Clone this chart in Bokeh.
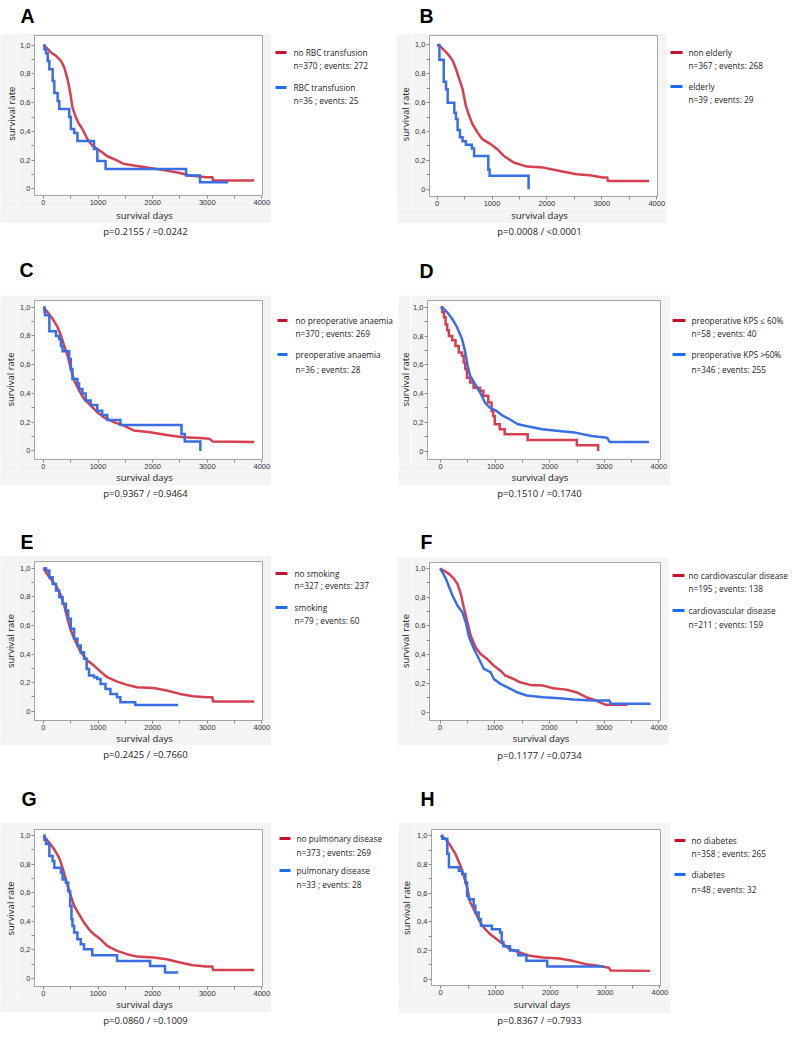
import math
from bokeh.plotting import figure
from bokeh.models import FixedTicker, CustomJSTickFormatter, Spacer
from bokeh.layouts import row, column
from bokeh.core.properties import value
from bokeh.embed import file_html
from bokeh.resources import INLINE

# ---------------- data (survival days, survival rate) ----------------
A_red_days = [0, 48, 139, 230, 321, 381, 442, 490, 532, 593, 653, 714, 805, 895, 986, 1077, 1168, 1289, 1470, 1652, 1954, 2257, 2499, 2680, 2983, 3095, 3104, 3860]
A_red_surv = [1.0, 0.984, 0.949, 0.926, 0.891, 0.845, 0.764, 0.671, 0.567, 0.498, 0.451, 0.417, 0.347, 0.301, 0.278, 0.255, 0.227, 0.208, 0.174, 0.162, 0.146, 0.127, 0.111, 0.093, 0.081, 0.081, 0.058, 0.058]
A_blue_days = [0, 18, 48, 79, 109, 170, 200, 261, 291, 473, 503, 564, 624, 927, 988, 1139, 2612, 2867, 3382]
A_blue_surv = [1.0, 0.972, 0.944, 0.889, 0.833, 0.75, 0.667, 0.611, 0.556, 0.5, 0.417, 0.389, 0.333, 0.278, 0.194, 0.139, 0.093, 0.046, 0.046]

B_red_days = [0, 72, 192, 283, 343, 403, 463, 523, 583, 644, 734, 824, 974, 1095, 1215, 1395, 1636, 1937, 2237, 2538, 2779, 3019, 3100, 3109, 3862]
B_red_surv = [1.0, 0.984, 0.938, 0.891, 0.833, 0.764, 0.694, 0.579, 0.509, 0.451, 0.394, 0.347, 0.313, 0.278, 0.231, 0.185, 0.157, 0.150, 0.127, 0.104, 0.097, 0.081, 0.081, 0.058, 0.058]
B_blue_days = [0, 42, 120, 162, 192, 313, 343, 373, 415, 463, 523, 632, 674, 932, 956, 1666]
B_blue_surv = [1.0, 0.897, 0.744, 0.692, 0.60, 0.53, 0.487, 0.41, 0.36, 0.333, 0.308, 0.282, 0.231, 0.135, 0.093, 0.0]

C_red_days = [0, 79, 169, 260, 321, 381, 442, 502, 563, 654, 744, 865, 986, 1107, 1289, 1470, 1652, 1954, 2257, 2560, 2862, 3044, 3100, 3860]
C_red_surv = [1.0, 0.965, 0.919, 0.861, 0.803, 0.733, 0.664, 0.571, 0.490, 0.420, 0.362, 0.316, 0.269, 0.234, 0.200, 0.176, 0.142, 0.130, 0.111, 0.095, 0.090, 0.084, 0.065, 0.062]
C_blue_days = [0, 18, 30, 109, 230, 290, 321, 351, 472, 502, 532, 623, 653, 714, 774, 865, 986, 1077, 1168, 1410, 2529, 2589, 2874]
C_blue_surv = [1.0, 0.97, 0.944, 0.833, 0.80, 0.778, 0.73, 0.694, 0.64, 0.57, 0.50, 0.47, 0.43, 0.40, 0.35, 0.32, 0.28, 0.25, 0.215, 0.18, 0.118, 0.065, 0.0]

D_red_days = [0, 30, 60, 90, 120, 150, 211, 271, 331, 391, 421, 451, 481, 541, 602, 722, 782, 872, 932, 962, 992, 1083, 1173, 1594, 2496, 2887]
D_red_surv = [1.0, 0.965, 0.93, 0.88, 0.84, 0.80, 0.77, 0.73, 0.686, 0.663, 0.616, 0.57, 0.51, 0.477, 0.44, 0.42, 0.384, 0.337, 0.279, 0.244, 0.186, 0.151, 0.116, 0.077, 0.04, 0.0]
D_blue_days = [0, 60, 120, 211, 301, 391, 451, 493, 541, 632, 722, 812, 902, 1023, 1143, 1263, 1414, 1564, 1865, 2165, 2466, 2767, 3050, 3098, 3820]
D_blue_surv = [1.0, 0.988, 0.965, 0.919, 0.860, 0.779, 0.686, 0.593, 0.523, 0.465, 0.407, 0.337, 0.302, 0.279, 0.244, 0.221, 0.186, 0.174, 0.151, 0.140, 0.128, 0.105, 0.093, 0.063, 0.063]

E_red_days = [0, 109, 230, 321, 381, 442, 502, 593, 684, 805, 926, 1047, 1168, 1349, 1531, 1712, 2015, 2257, 2499, 2741, 2983, 3095, 3104, 3860]
E_red_surv = [1.0, 0.937, 0.879, 0.809, 0.739, 0.646, 0.564, 0.483, 0.413, 0.354, 0.319, 0.277, 0.238, 0.207, 0.184, 0.168, 0.163, 0.145, 0.121, 0.105, 0.098, 0.098, 0.068, 0.068]
E_blue_days = [0, 48, 109, 169, 230, 290, 351, 411, 454, 502, 563, 623, 684, 744, 792, 835, 926, 986, 1047, 1137, 1228, 1349, 1410, 1682, 2468]
E_blue_surv = [1.0, 0.984, 0.937, 0.890, 0.844, 0.797, 0.751, 0.704, 0.646, 0.576, 0.506, 0.459, 0.413, 0.366, 0.296, 0.249, 0.238, 0.226, 0.191, 0.156, 0.121, 0.098, 0.063, 0.044, 0.044]

F_red_days = [0, 78, 169, 259, 320, 380, 440, 500, 561, 651, 741, 862, 983, 1103, 1194, 1345, 1465, 1646, 1887, 2068, 2309, 2490, 2671, 2852, 3033, 3425]
F_red_surv = [1.0, 0.984, 0.961, 0.926, 0.891, 0.822, 0.718, 0.625, 0.532, 0.451, 0.405, 0.370, 0.324, 0.289, 0.255, 0.231, 0.208, 0.190, 0.185, 0.167, 0.157, 0.139, 0.104, 0.081, 0.051, 0.051]
F_blue_days = [0, 48, 109, 169, 229, 320, 410, 470, 531, 621, 712, 802, 923, 983, 1103, 1224, 1405, 1586, 1887, 2188, 2430, 2792, 3093, 3124, 3847]
F_blue_surv = [1.0, 0.972, 0.926, 0.868, 0.810, 0.741, 0.694, 0.625, 0.521, 0.440, 0.370, 0.301, 0.278, 0.231, 0.197, 0.174, 0.139, 0.116, 0.104, 0.097, 0.088, 0.081, 0.081, 0.058, 0.058]

G_red_days = [0, 109, 200, 290, 351, 411, 472, 563, 654, 744, 835, 926, 1047, 1168, 1349, 1531, 1712, 2015, 2257, 2499, 2741, 2983, 3095, 3104, 3860]
G_red_surv = [1.0, 0.949, 0.902, 0.844, 0.774, 0.693, 0.612, 0.507, 0.449, 0.391, 0.344, 0.309, 0.274, 0.228, 0.193, 0.170, 0.153, 0.147, 0.135, 0.112, 0.093, 0.084, 0.084, 0.060, 0.060]
G_blue_days = [0, 18, 48, 109, 169, 200, 321, 351, 411, 454, 490, 514, 532, 563, 623, 684, 744, 895, 1349, 1954, 2226, 2468]
G_blue_surv = [1.0, 0.97, 0.94, 0.856, 0.82, 0.774, 0.74, 0.693, 0.67, 0.612, 0.507, 0.414, 0.367, 0.321, 0.274, 0.24, 0.205, 0.163, 0.123, 0.088, 0.042, 0.042]

H_red_days = [0, 90, 180, 271, 361, 421, 481, 541, 632, 722, 812, 902, 1023, 1143, 1263, 1444, 1624, 1865, 2165, 2406, 2647, 2887, 3068, 3100, 3820]
H_red_surv = [1.0, 0.977, 0.930, 0.872, 0.791, 0.721, 0.640, 0.535, 0.465, 0.395, 0.349, 0.314, 0.279, 0.244, 0.209, 0.186, 0.163, 0.151, 0.144, 0.128, 0.105, 0.093, 0.080, 0.060, 0.058]
H_blue_days = [0, 30, 120, 150, 331, 391, 451, 481, 511, 602, 632, 692, 734, 932, 1083, 1113, 1143, 1263, 1414, 1564, 1943, 2977]
H_blue_surv = [1.0, 0.979, 0.875, 0.78, 0.756, 0.733, 0.674, 0.581, 0.558, 0.512, 0.465, 0.42, 0.372, 0.349, 0.326, 0.26, 0.23, 0.2, 0.167, 0.128, 0.088, 0.088]

letters = ["A", "B", "C", "D", "E", "F", "G", "H"]
group_names = [
    ("no RBC transfusion", "RBC transfusion"),
    ("non elderly", "elderly"),
    ("no preoperative anaemia", "preoperative anaemia"),
    ("preoperative KPS \u2264 60%", "preoperative KPS >60%"),
    ("no smoking", "smoking"),
    ("no cardiovascular disease", "cardiovascular disease"),
    ("no pulmonary disease", "pulmonary disease"),
    ("no diabetes", "diabetes"),
]
group_counts = [
    ("n=370 ; events: 272", "n=36 ; events: 25"),
    ("n=367 ; events: 268", "n=39 ; events: 29"),
    ("n=370 ; events: 269", "n=36 ; events: 28"),
    ("n=58 ; events: 40", "n=346 ; events: 255"),
    ("n=327 ; events: 237", "n=79 ; events: 60"),
    ("n=195 ; events: 138", "n=211 ; events: 159"),
    ("n=373 ; events: 269", "n=33 ; events: 28"),
    ("n=358 ; events: 265", "n=48 ; events: 32"),
]
p_values = ["p=0.2155 / =0.0242", "p=0.0008 / <0.0001", "p=0.9367 / =0.9464", "p=0.1510 / =0.1740",
            "p=0.2425 / =0.7660", "p=0.1177 / =0.0734", "p=0.0860 / =0.1009", "p=0.8367 / =0.7933"]
x_label = "survival days"
y_label = "survival rate"
x_ticks = [0, 1000, 2000, 3000, 4000]
x_minor = [500, 1500, 2500, 3500]
y_ticks = [0, 0.2, 0.4, 0.6, 0.8, 1.0]
y_minor = [0.1, 0.3, 0.5, 0.7, 0.9]

series = [
    (A_red_days, A_red_surv, "line", A_blue_days, A_blue_surv, "step"),
    (B_red_days, B_red_surv, "line", B_blue_days, B_blue_surv, "step"),
    (C_red_days, C_red_surv, "line", C_blue_days, C_blue_surv, "step"),
    (D_red_days, D_red_surv, "step", D_blue_days, D_blue_surv, "line"),
    (E_red_days, E_red_surv, "line", E_blue_days, E_blue_surv, "step"),
    (F_red_days, F_red_surv, "line", F_blue_days, F_blue_surv, "line"),
    (G_red_days, G_red_surv, "line", G_blue_days, G_blue_surv, "step"),
    (H_red_days, H_red_surv, "line", H_blue_days, H_blue_surv, "step"),
]

# ---------------- layout (pixel positions; left column relative to x=8, right column relative to x=400) ----------------
LAYOUT = [
    dict(h=252, fr=(32, 262, 35, 195), xr=(-163, 4012), yr=(-0.046, 1.067), gr=(0, 271, 33, 223), let=(20, 21),
         kx=(275, 286), tx=293, ty=(52, 65, 87, 100), pv=(145, 231), ylx=11, xly=214.5),
    dict(h=252, fr=(35, 265, 35, 196), xr=(-139, 4014), yr=(-0.050, 1.065), gr=(3, 275, 33, 223), let=(27, 21),
         kx=(278, 290), tx=296, ty=(52, 65, 86, 99), pv=(147, 231), ylx=13, xly=214.5),
    dict(h=260, fr=(32, 262, 48, 207), xr=(-163, 4012), yr=(-0.060, 1.047), gr=(0, 271, 43, 233), let=(19, 23),
         kx=(277, 287), tx=295, ty=(68, 81, 102, 117), pv=(145, 241), ylx=9.5, xly=224.5),
    dict(h=260, fr=(33, 268, 48, 207), xr=(-242, 4030), yr=(-0.059, 1.047), gr=(6, 278, 43, 233), let=(27, 24),
         kx=(280, 293), tx=299, ty=(68, 81, 102, 117), pv=(147, 241), ylx=13, xly=224.5),
    dict(h=260, fr=(32, 262, 49, 208), xr=(-163, 4012), yr=(-0.065, 1.047), gr=(0, 271, 43, 233), let=(20, 35),
         kx=(275, 287), tx=294, ty=(61, 73, 95, 108), pv=(145, 242), ylx=9.5, xly=224.5),
    dict(h=260, fr=(35, 268, 50, 208), xr=(-193, 4030), yr=(-0.058, 1.042), gr=(5, 277, 45, 233), let=(28, 35),
         kx=(280, 292), tx=296, ty=(63, 76, 98, 112), pv=(147, 243), ylx=12.5, xly=226),
    dict(h=257, fr=(32, 262, 57, 214), xr=(-163, 4012), yr=(-0.056, 1.042), gr=(0, 271, 50, 240), let=(21, 32),
         kx=(279, 290), tx=296, ty=(66, 80, 98, 112), pv=(145, 248), ylx=9.5, xly=231.5),
    dict(h=257, fr=(37, 268, 57, 213), xr=(-168, 4010), yr=(-0.044, 1.044), gr=(6, 278, 50, 241), let=(28, 32),
         kx=(282, 293), tx=299, ty=(68, 81, 102, 117), pv=(147, 248), ylx=13.5, xly=232),
]

FIG_W = 396              # each column is 396 px wide (8..404, 404..800)
COL_OFFSET = [0, 4]      # shift of the right column's coordinates
LB, BB = 15, 12          # plot borders holding the tick labels
RED_LINE = "#d63f50"
BLUE_LINE = "#3a6ee4"
RED_KEY = "#c8102e"
BLUE_KEY = "#1b6ef3"
GRAY_BG = "#f4f4f4"
FRAME_C = "#a4a4a4"
TICK_C = "#8a8a8a"
TXT_FONT = "Open Sans"
TICK_FONT = "Liberation Sans"
TXT_C = "#222222"
LEG_SIZE = "8.3px"


def text_fig(x0, x1, y0, y1, bg="white"):
    f = figure(width=int(round(x1 - x0)), height=int(round(y1 - y0)), x_range=(x0, x1), y_range=(y1, y0),
               output_backend="svg", toolbar_location=None, min_border=0,
               x_axis_type=None, y_axis_type=None)
    f.outline_line_color = None
    f.background_fill_color = bg
    f.border_fill_color = bg
    f.xgrid.visible = False
    f.ygrid.visible = False
    return f


def put_text(f, x, y, txt, size, font=TXT_FONT, style="normal", align="left",
             baseline="middle", color=TXT_C, angle=0.0):
    f.text(x=[x], y=[y], text=[txt], text_font=value(font), text_font_size=value(size),
           text_font_style=style, text_align=align, text_baseline=baseline,
           text_color=color, angle=angle)


def make_panel(i):
    L = LAYOUT[i]
    ox = COL_OFFSET[i % 2]
    h = L["h"]
    fl, fr, ft, fb = L["fr"]
    fl, fr = fl - ox, fr - ox
    gl, gr, gt, gb = L["gr"]
    gl, gr = max(0, gl - ox), gr - ox
    px0 = fl - LB
    py1 = fb + BB

    p = figure(width=gr - px0, height=py1 - gt, x_range=L["xr"], y_range=L["yr"],
               output_backend="svg", toolbar_location=None,
               min_border_left=LB, min_border_right=gr - fr,
               min_border_top=ft - gt, min_border_bottom=BB)
    p.background_fill_color = "white"
    p.border_fill_color = GRAY_BG
    p.outline_line_color = FRAME_C
    p.outline_line_width = 1
    p.xgrid.visible = False
    p.ygrid.visible = False
    p.xaxis.ticker = FixedTicker(ticks=x_ticks, minor_ticks=x_minor)
    p.yaxis.ticker = FixedTicker(ticks=y_ticks, minor_ticks=y_minor)
    p.yaxis.formatter = CustomJSTickFormatter(
        code="return tick == 0 ? '0' : tick.toFixed(1).replace('.', ',');")
    for ax in (p.xaxis[0], p.yaxis[0]):
        ax.axis_line_color = FRAME_C
        ax.major_tick_line_color = TICK_C
        ax.minor_tick_line_color = TICK_C
        ax.major_tick_out = 3
        ax.major_tick_in = 0
        ax.minor_tick_out = 3
        ax.minor_tick_in = 0
        ax.major_label_standoff = 1
        ax.major_label_text_font = TICK_FONT
        ax.major_label_text_font_size = "7.5px"
        ax.major_label_text_color = "#333333"

    rd, rs, rmode, bd, bs, bmode = series[i]
    for d, s, mode, col in ((rd, rs, rmode, RED_LINE), (bd, bs, bmode, BLUE_LINE)):
        if mode == "step":
            p.step(d, s, mode="after", line_width=2.5, line_color=col, line_join="miter")
        else:
            p.line(d, s, line_width=2.5, line_color=col, line_join="round")

    # axis titles in gray strips
    ylab = text_fig(gl, px0, gt, py1, GRAY_BG)
    ylx = min(max(L["ylx"] - ox, gl + 5.5), px0 - 5.5)
    put_text(ylab, ylx, (ft + fb) / 2 + 3, y_label, "9.5px", align="center", angle=math.pi / 2)
    xlab = text_fig(gl, gr, py1, gb, GRAY_BG)
    xly = min(max(L["xly"], py1 + 5.5), gb - 5.5)
    put_text(xlab, (fl + fr) / 2 - 3, xly, x_label, "9.5px", align="center")

    # panel letter
    let = text_fig(gl, gr, 0, gt)
    put_text(let, L["let"][0] - ox, L["let"][1] - 6, letters[i], "19.5px", font="Liberation Sans",
             style="bold", baseline="middle", color="#000000")

    # p-value
    pv = text_fig(gl, gr, gb, h)
    put_text(pv, L["pv"][0] - ox, L["pv"][1], p_values[i], "9.5px", align="center")

    # legend
    lg = text_fig(gr, FIG_W, 0, h)
    kl, kr = L["kx"][0] - ox, L["kx"][1] - ox
    tx = L["tx"] - ox
    ys = L["ty"]
    lg.quad(left=[kl, kl], right=[kr, kr], top=[ys[0] - 1.5, ys[2] - 1.5],
            bottom=[ys[0] + 1.5, ys[2] + 1.5], fill_color=[RED_KEY, BLUE_KEY], line_color=None)
    put_text(lg, tx, ys[0], group_names[i][0], LEG_SIZE)
    put_text(lg, tx, ys[1], group_counts[i][0], LEG_SIZE)
    put_text(lg, tx, ys[2], group_names[i][1], LEG_SIZE)
    put_text(lg, tx, ys[3], group_counts[i][1], LEG_SIZE)

    mid = column(let, row(ylab, p), xlab, pv)
    kids = ([Spacer(width=gl, height=h)] if gl > 0 else []) + [mid, lg]
    return row(*kids)


panels = [make_panel(i) for i in range(8)]
layout = column(row(panels[0], panels[1]), row(panels[2], panels[3]),
                row(panels[4], panels[5]), row(panels[6], panels[7]))

open("out.html", "w").write(file_html(layout, INLINE))
